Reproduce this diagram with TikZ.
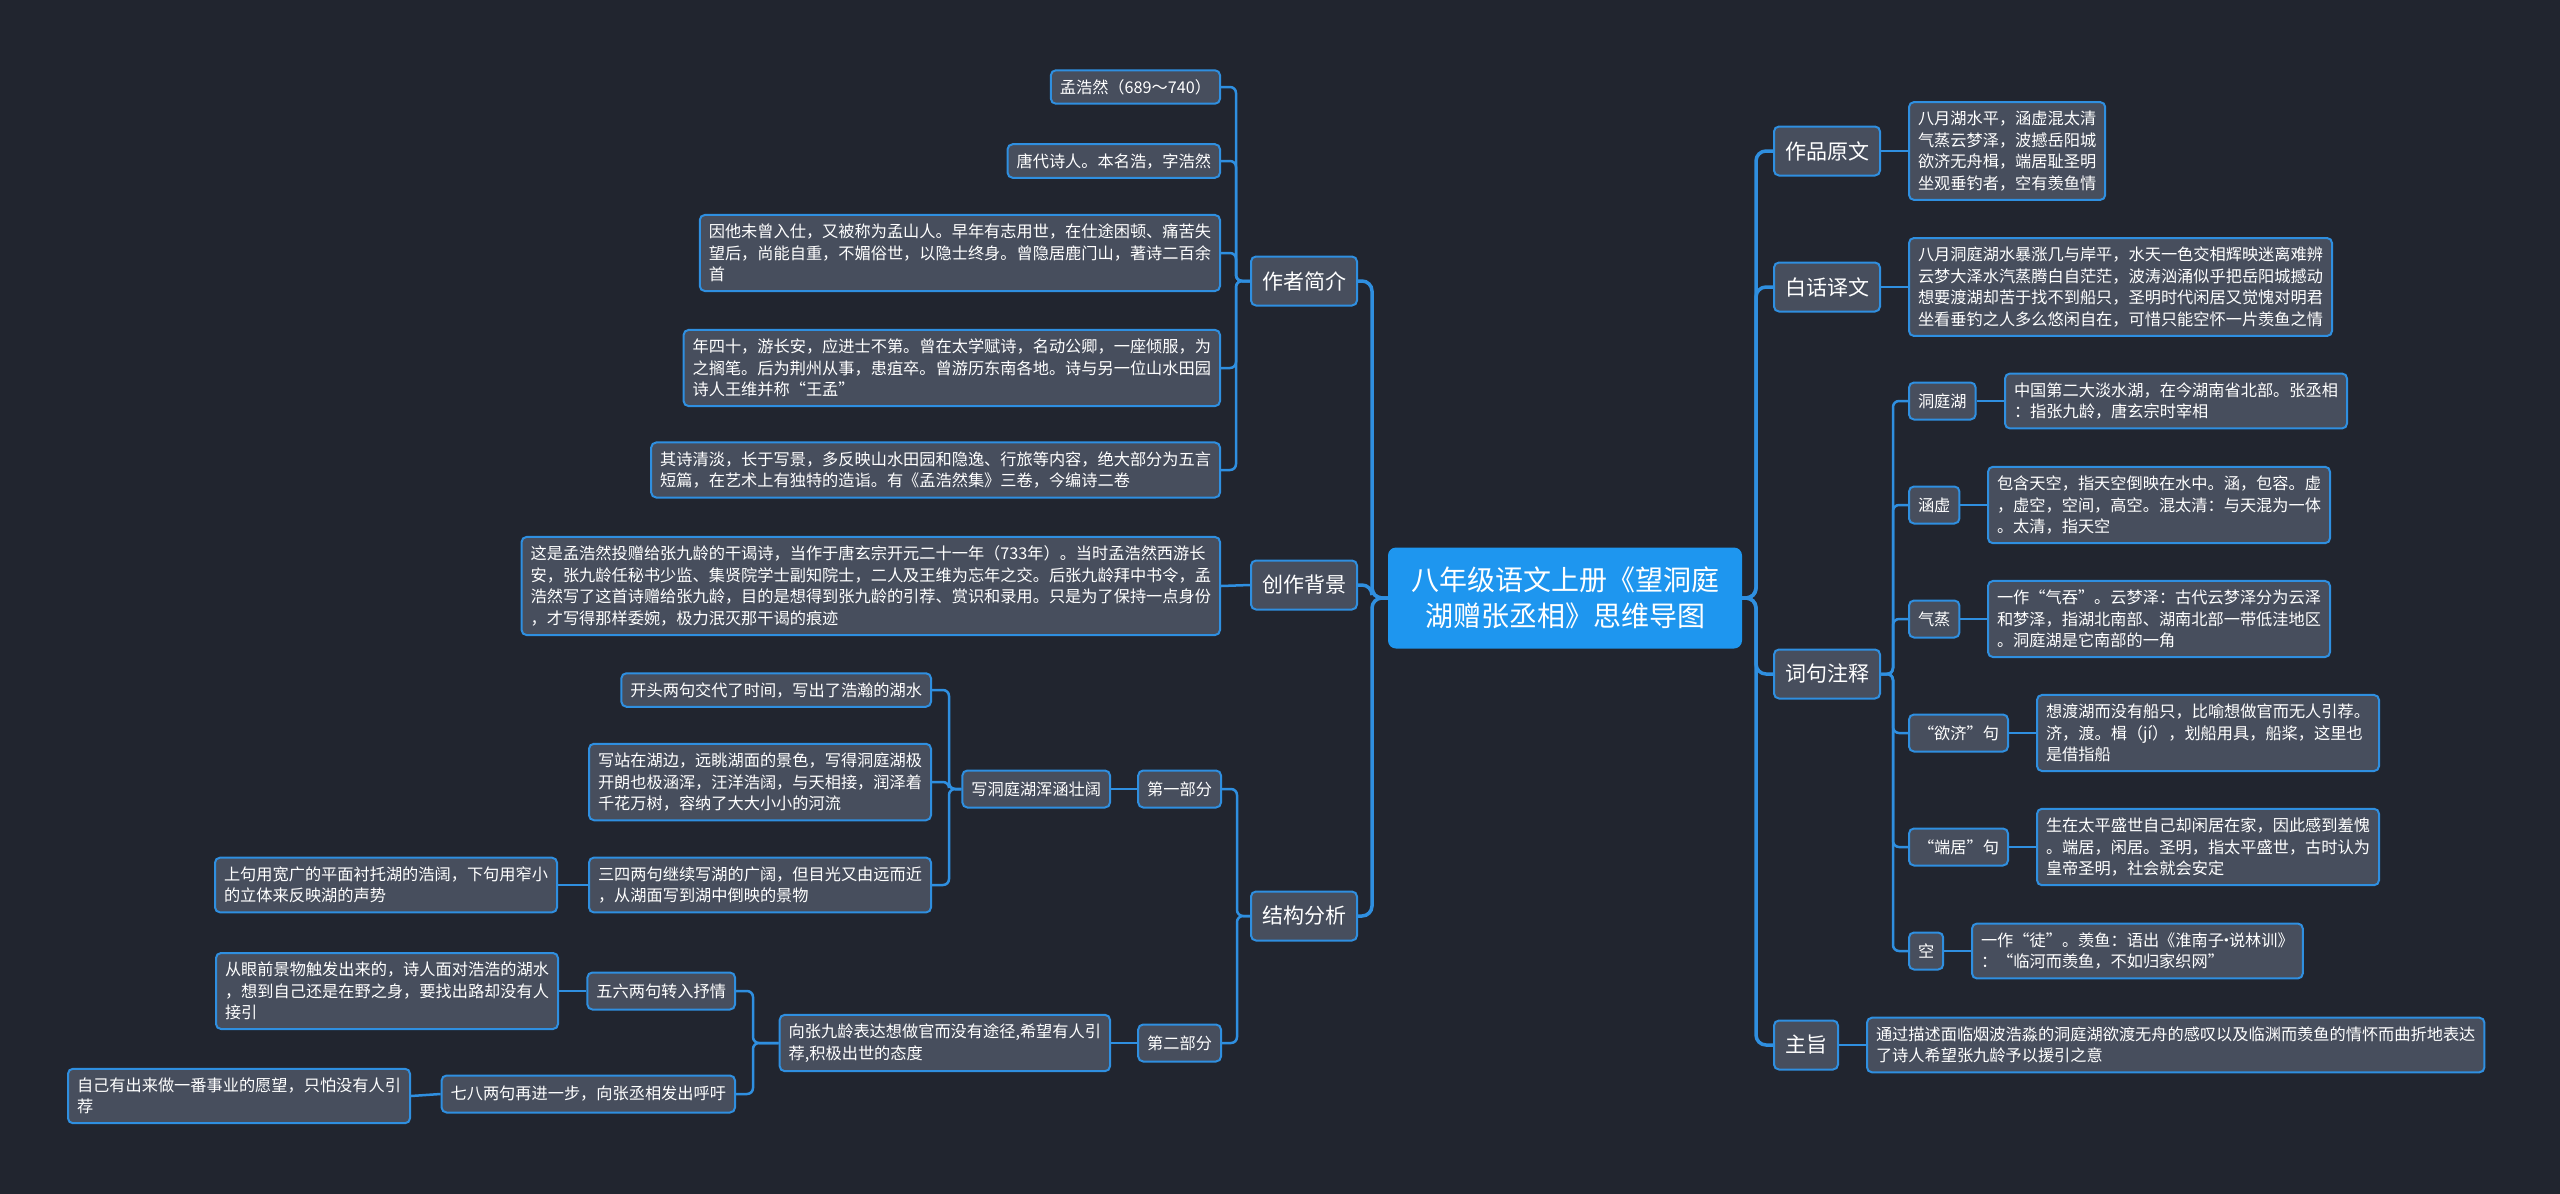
\documentclass[tikz,border=0pt]{standalone}
\usepackage{fontspec}
\setmainfont{Noto Sans CJK SC}
\definecolor{bgc}{HTML}{21252F}
\definecolor{nodefill}{HTML}{474E5D}
\definecolor{edgec}{HTML}{2F8FE0}
\definecolor{rootfill}{HTML}{1E96EF}
\tikzset{
  mmbox/.style={draw=edgec, line width=2pt, fill=nodefill, rounded corners=5pt, text=white,
    align=left, inner xsep=9pt, inner ysep=9pt, font=\fontsize{16.2}{21.5}\selectfont},
  mmsub/.style={mmbox, minimum height=37pt},
  mmtopic/.style={mmbox, font=\fontsize{21}{26}\selectfont, inner xsep=11pt, minimum height=49pt},
  mmroot/.style={fill=rootfill, rounded corners=8pt, text=white, align=center,
    font=\fontsize{28}{36}\selectfont, minimum width=354pt, minimum height=101pt},
  mmconn/.style={draw=edgec, line width=2.5pt, rounded corners=6pt},
  mmmain/.style={draw=edgec, line width=3.5pt, rounded corners=10pt},
}
\begin{document}
\begin{tikzpicture}[x=1pt,y=-1pt]
\fill[bgc] (0,0) rectangle (2560,1194);
\useasboundingbox (0,0) rectangle (2560,1194);

% bus coordinates
\coordinate (bL) at (1372,0);
\coordinate (bR) at (1756,0);
\coordinate (bZ) at (1236,0);
\coordinate (bJ) at (1237,0);
\coordinate (bX) at (949,0);
\coordinate (bY) at (753,0);
\coordinate (bC) at (1893,0);

% root
\node[mmroot] (root) at (1565,598) {八年级语文上册《望洞庭\\湖赠张丞相》思维导图};

% ---------- left: 作者简介
\node[mmtopic, anchor=east] (zz) at (1358,281) {作者简介};
\node[mmbox, anchor=east] (zz1) at (1221,87) {孟浩然（689～740）};
\node[mmbox, anchor=east] (zz2) at (1221,161) {唐代诗人。本名浩，字浩然};
\node[mmbox, anchor=east] (zz3) at (1221,253) {因他未曾入仕，又被称为孟山人。早年有志用世，在仕途困顿、痛苦失\\望后，尚能自重，不媚俗世，以隐士终身。曾隐居鹿门山，著诗二百余\\首};
\node[mmbox, anchor=east] (zz4) at (1221,368) {年四十，游长安，应进士不第。曾在太学赋诗，名动公卿，一座倾服，为\\之搁笔。后为荆州从事，患疽卒。曾游历东南各地。诗与另一位山水田园\\诗人王维并称“王孟”};
\node[mmbox, anchor=east] (zz5) at (1221,470) {其诗清淡，长于写景，多反映山水田园和隐逸、行旅等内容，绝大部分为五言\\短篇，在艺术上有独特的造诣。有《孟浩然集》三卷，今编诗二卷};

% ---------- left: 创作背景
\node[mmtopic, anchor=east] (cz) at (1358,585) {创作背景};
\node[mmbox, anchor=east] (cz1) at (1221,586) {这是孟浩然投赠给张九龄的干谒诗，当作于唐玄宗开元二十一年（733年）。当时孟浩然西游长\\安，张九龄任秘书少监、集贤院学士副知院士，二人及王维为忘年之交。后张九龄拜中书令，孟\\浩然写了这首诗赠给张九龄，目的是想得到张九龄的引荐、赏识和录用。只是为了保持一点身份\\，才写得那样委婉，极力泯灭那干谒的痕迹};

% ---------- left: 结构分析
\node[mmtopic, anchor=east] (jg) at (1358,916) {结构分析};
\node[mmsub, anchor=east] (p1) at (1222,789) {第一部分};
\node[mmsub, anchor=east] (p2) at (1222,1043) {第二部分};
\node[mmsub, anchor=east] (p1a) at (1111,789) {写洞庭湖浑涵壮阔};
\node[mmbox, anchor=east] (p1a1) at (932,690) {开头两句交代了时间，写出了浩瀚的湖水};
\node[mmbox, anchor=east] (p1a2) at (932,782) {写站在湖边，远眺湖面的景色，写得洞庭湖极\\开朗也极涵浑，汪洋浩阔，与天相接，润泽着\\千花万树，容纳了大大小小的河流};
\node[mmbox, anchor=east] (p1a3) at (932,885) {三四两句继续写湖的广阔，但目光又由远而近\\，从湖面写到湖中倒映的景物};
\node[mmbox, anchor=east] (p1a3a) at (558,885) {上句用宽广的平面衬托湖的浩阔，下句用窄小\\的立体来反映湖的声势};
\node[mmbox, anchor=east] (p2a) at (1111,1043) {向张九龄表达想做官而没有途径,希望有人引\\荐,积极出世的态度};
\node[mmsub, anchor=east] (p2a1) at (736,991) {五六两句转入抒情};
\node[mmbox, anchor=east] (p2a1a) at (559,991) {从眼前景物触发出来的，诗人面对浩浩的湖水\\，想到自己还是在野之身，要找出路却没有人\\接引};
\node[mmsub, anchor=east] (p2a2) at (736,1094) {七八两句再进一步，向张丞相发出呼吁};
\node[mmbox, anchor=east] (p2a2a) at (411,1096) {自己有出来做一番事业的愿望，只怕没有人引\\荐};

% ---------- right
\node[mmtopic, anchor=west] (yw) at (1773,151) {作品原文};
\node[mmbox, anchor=west] (yw1) at (1908,151) {八月湖水平，涵虚混太清\\气蒸云梦泽，波撼岳阳城\\欲济无舟楫，端居耻圣明\\坐观垂钓者，空有羡鱼情};
\node[mmtopic, anchor=west] (bh) at (1773,287) {白话译文};
\node[mmbox, anchor=west] (bh1) at (1908,287) {八月洞庭湖水暴涨几与岸平，水天一色交相辉映迷离难辨\\云梦大泽水汽蒸腾白自茫茫，波涛汹涌似乎把岳阳城撼动\\想要渡湖却苦于找不到船只，圣明时代闲居又觉愧对明君\\坐看垂钓之人多么悠闲自在，可惜只能空怀一片羡鱼之情};
\node[mmtopic, anchor=west] (cj) at (1773,674) {词句注释};
\node[mmsub, anchor=west] (c1) at (1908,401) {洞庭湖};
\node[mmbox, anchor=west] (c1a) at (2004,401) {中国第二大淡水湖，在今湖南省北部。张丞相\\：指张九龄，唐玄宗时宰相};
\node[mmsub, anchor=west] (c2) at (1908,505) {涵虚};
\node[mmbox, anchor=west] (c2a) at (1987,505) {包含天空，指天空倒映在水中。涵，包容。虚\\，虚空，空间，高空。混太清：与天混为一体\\。太清，指天空};
\node[mmsub, anchor=west] (c3) at (1908,619) {气蒸};
\node[mmbox, anchor=west] (c3a) at (1987,619) {一作“气吞”。云梦泽：古代云梦泽分为云泽\\和梦泽，指湖北南部、湖南北部一带低洼地区\\。洞庭湖是它南部的一角};
\node[mmsub, anchor=west] (c4) at (1908,733) {“欲济”句};
\node[mmbox, anchor=west] (c4a) at (2036,733) {想渡湖而没有船只，比喻想做官而无人引荐。\\济，渡。楫（jí），划船用具，船桨，这里也\\是借指船};
\node[mmsub, anchor=west] (c5) at (1908,847) {“端居”句};
\node[mmbox, anchor=west] (c5a) at (2036,847) {生在太平盛世自己却闲居在家，因此感到羞愧\\。端居，闲居。圣明，指太平盛世，古时认为\\皇帝圣明，社会就会安定};
\node[mmsub, anchor=west] (c6) at (1908,951) {空};
\node[mmbox, anchor=west] (c6a) at (1971,951) {一作“徒”。羡鱼：语出《淮南子\makebox[5pt]{·}说林训》\\：“临河而羡鱼，不如归家织网”};
\node[mmtopic, anchor=west] (zt) at (1773,1045) {主旨};
\node[mmbox, anchor=west] (zt1) at (1866,1045) {通过描述面临烟波浩淼的洞庭湖欲渡无舟的感叹以及临渊而羡鱼的情怀而曲折地表达\\了诗人希望张九龄予以援引之意};

% ---------- connectors
\foreach \n in {zz,cz,jg} \draw[mmmain] (root.west) -- (root.west -| bL) |- (\n.east);
\foreach \n in {yw,bh,cj,zt} \draw[mmmain] (root.east) -- (root.east -| bR) |- (\n.west);

\foreach \n in {zz1,zz2,zz3,zz4,zz5} \draw[mmconn] (zz.west) -- (zz.west -| bZ) |- (\n.east);
\draw[mmconn] (cz.west) -- (cz1.east);
\foreach \n in {p1,p2} \draw[mmconn] (jg.west) -- (jg.west -| bJ) |- (\n.east);
\draw[mmconn] (p1.west) -- (p1a.east);
\foreach \n in {p1a1,p1a2,p1a3} \draw[mmconn] (p1a.west) -- (p1a.west -| bX) |- (\n.east);
\draw[mmconn] (p1a3.west) -- (p1a3a.east);
\draw[mmconn] (p2.west) -- (p2a.east);
\foreach \n in {p2a1,p2a2} \draw[mmconn] (p2a.west) -- (p2a.west -| bY) |- (\n.east);
\draw[mmconn] (p2a1.west) -- (p2a1a.east);
\draw[mmconn] (p2a2.west) -- (p2a2a.east);

\draw[mmconn] (yw.east) -- (yw1.west);
\draw[mmconn] (bh.east) -- (bh1.west);
\foreach \n in {c1,c2,c3,c4,c5,c6} \draw[mmconn] (cj.east) -- (cj.east -| bC) |- (\n.west);
\draw[mmconn] (c1.east) -- (c1a.west);
\draw[mmconn] (c2.east) -- (c2a.west);
\draw[mmconn] (c3.east) -- (c3a.west);
\draw[mmconn] (c4.east) -- (c4a.west);
\draw[mmconn] (c5.east) -- (c5a.west);
\draw[mmconn] (c6.east) -- (c6a.west);
\draw[mmconn] (zt.east) -- (zt1.west);
\end{tikzpicture}
\end{document}
